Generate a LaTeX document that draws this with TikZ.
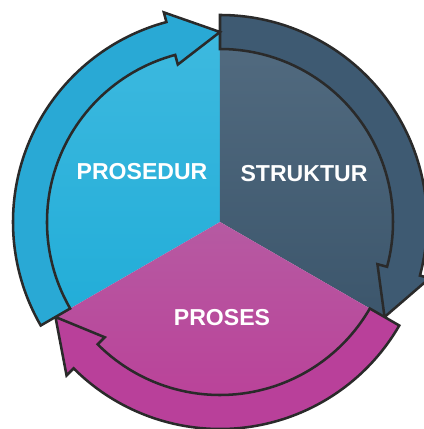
\documentclass[tikz,border=0pt]{standalone}
\usepackage{fontspec}
\setmainfont{Liberation Sans}
\definecolor{edge}{HTML}{2A2A2A}
\definecolor{cyanarr}{HTML}{29A9D5}
\definecolor{slatearr}{HTML}{3E5A72}
\definecolor{magarr}{HTML}{B9409A}
\definecolor{cyantop}{HTML}{3DB9DF}
\definecolor{cyanbot}{HTML}{22ADD8}
\definecolor{slatetop}{HTML}{526B80}
\definecolor{slatebot}{HTML}{3C566C}
\definecolor{magtop}{HTML}{B65AA2}
\definecolor{magbot}{HTML}{BB3D97}
\begin{document}
\begin{tikzpicture}[x=0.75pt,y=0.75pt,
    rim/.style={draw=edge,line width=1.9pt,line join=miter},
    lbl/.style={text=white,font=\bfseries\fontsize{17.3}{20}\selectfont}]
\useasboundingbox (-220,-207) rectangle (204,222);
\coordinate (O) at (0,0);
% the three parts of the disc
\shade[top color=cyantop,bottom color=cyanbot] (O)--(90:190) arc[start angle=90,end angle=210,radius=190]--cycle;
\shade[top color=slatetop,bottom color=slatebot] (O)--(-30:190) arc[start angle=-30,end angle=90,radius=190]--cycle;
\shade[top color=magtop,bottom color=magbot] (O)--(210:190) arc[start angle=210,end angle=330,radius=190]--cycle;
% arrows round the rim
\foreach \a/\c in {90/slatearr,-30/magarr,210/cyanarr}{
  \draw[rim,fill=\c] (\a:207) arc[start angle=\a,end angle=\a-105,radius=207]
    --({\a-105}:217)--({\a-120}:190)--({\a-105}:163)--({\a-105}:173)
    arc[start angle=\a-105,end angle=\a,radius=173]--cycle;
}
\node[lbl] (prosedur) at (-78,50) {PROSEDUR};
\node[lbl] (struktur) at (84,48) {STRUKTUR};
\node[lbl] (proses) at (2,-96) {PROSES};
\end{tikzpicture}
\end{document}
